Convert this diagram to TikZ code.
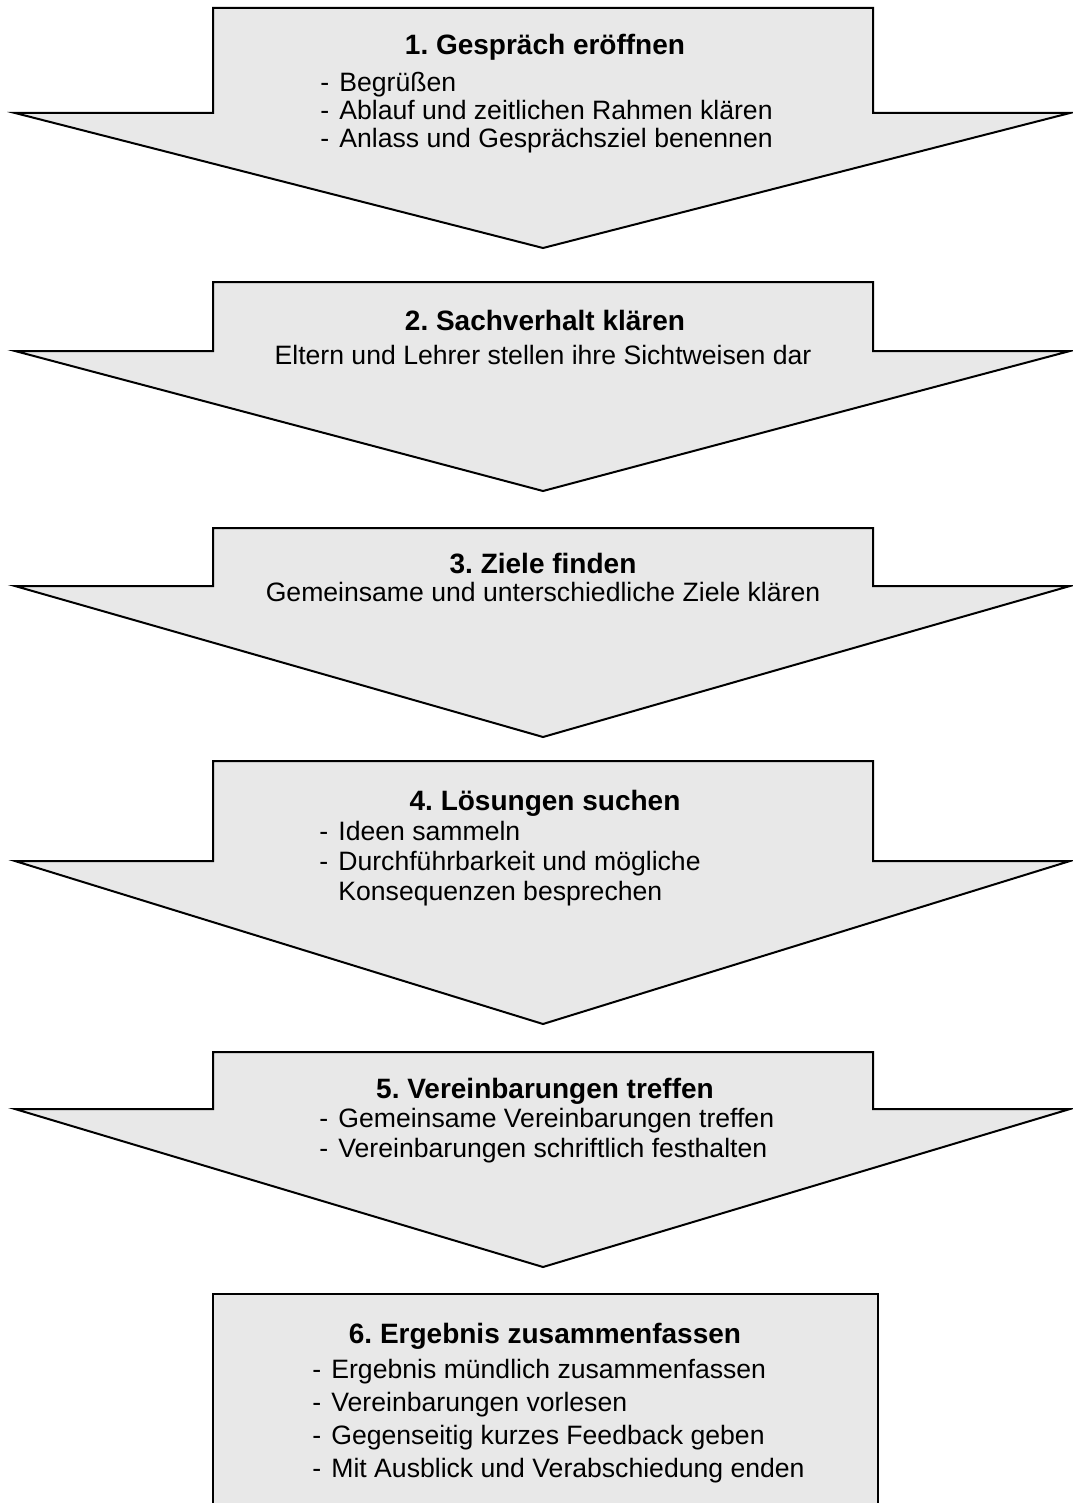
\documentclass[tikz,border=0pt]{standalone}
\usepackage{fontspec}
\setmainfont{Liberation Sans}
\usetikzlibrary{positioning}
\frenchspacing

\newcommand{\hy}{\makebox[9.5pt][l]{-}}

\begin{document}
\begin{tikzpicture}[
  x=0.5pt, y=-0.5pt,
  font=\fontsize{13.3}{14}\selectfont,
  stage/.style={draw=black, line width=1pt, fill=black!9, line join=miter},
  title/.style={font=\fontsize{14}{16}\selectfont\bfseries, anchor=base, inner sep=0pt},
  items/.style={align=left, anchor=base west, inner sep=0pt},
  line/.style={align=center, anchor=base, inner sep=0pt}
]
\useasboundingbox (0,0) rectangle (1072,1503);

% the five steps as down arrows
\foreach \yt/\ys/\yp in {8/113/248, 282/351/491, 528/586/737, 761/861/1024, 1052/1109/1267}
  \draw[stage] (213,\yt) -- (873,\yt) -- (873,\ys) -- (1070,\ys)
    -- (543,\yp) -- (15,\ys) -- (213,\ys) -- cycle;
% last step as a box
\draw[stage] (213,1294) rectangle (878,1504);

% items nodes sit on the baseline of their last line
\node[title] (t1) at (545,55) {1. Gespräch eröffnen};
\node[items] (l1) at (320,148) {\hy Begrüßen\\
  \hy Ablauf und zeitlichen Rahmen klären\\
  \hy Anlass und Gesprächsziel benennen};

\node[title] (t2) at (545,330) {2. Sachverhalt klären};
\node[line] (l2) at (543,364) {Eltern und Lehrer stellen ihre Sichtweisen dar};

\node[title] (t3) at (543,573) {3. Ziele finden};
\node[line] (l3) at (543,601) {Gemeinsame und unterschiedliche Ziele klären};

\node[title] (t4) at (545,810) {4. Lösungen suchen};
\node[items, font=\fontsize{13.3}{15}\selectfont] (l4) at (319,900) {\hy Ideen sammeln\\
  \hy Durchführbarkeit und mögliche\\
  \hphantom{\hy}Konsequenzen besprechen};

\node[title] (t5) at (545,1098) {5. Vereinbarungen treffen};
\node[items, font=\fontsize{13.3}{15}\selectfont] (l5) at (319,1157) {\hy Gemeinsame Vereinbarungen treffen\\
  \hy Vereinbarungen schriftlich festhalten};

\node[title] (t6) at (545,1343) {6. Ergebnis zusammenfassen};
\node[items, font=\fontsize{13.3}{16.5}\selectfont] (l6) at (312,1477) {\hy Ergebnis mündlich zusammenfassen\\
  \hy Vereinbarungen vorlesen\\
  \hy Gegenseitig kurzes Feedback geben\\
  \hy Mit Ausblick und Verabschiedung enden};
\end{tikzpicture}
\end{document}
